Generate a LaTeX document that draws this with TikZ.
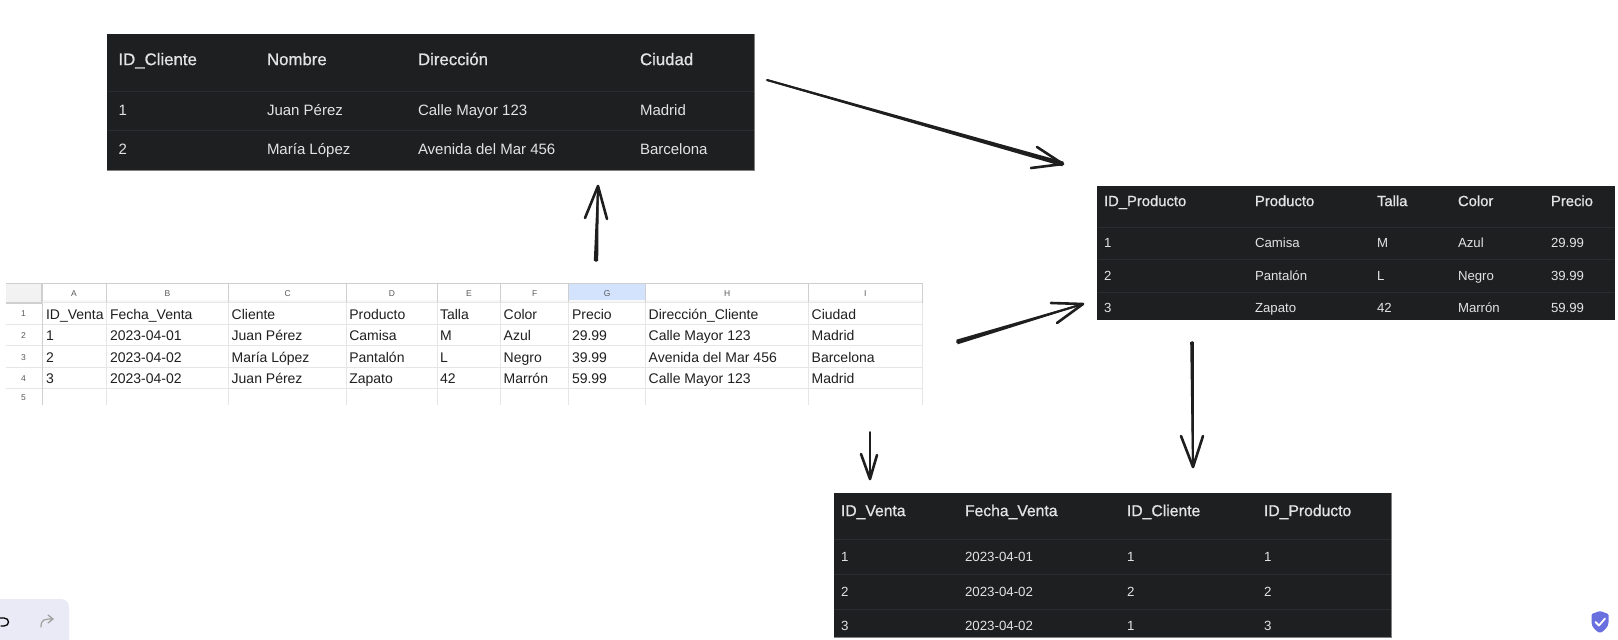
\documentclass[tikz,border=0pt]{standalone}
\usepackage{fontspec}
\setmainfont{Liberation Sans}
\newfontfamily\hdfont[FakeBold=0.8]{Liberation Sans}
\usetikzlibrary{calc}
\definecolor{panelbg}{HTML}{1E1F21}
\definecolor{panelsep}{HTML}{2B2C2F}
\definecolor{paneltxt}{HTML}{E3E3E3}
\definecolor{gridc}{HTML}{E6E6E6}
\definecolor{gridd}{HTML}{CFCFCF}
\definecolor{sheettxt}{HTML}{1F1F1F}
\definecolor{ink}{HTML}{1E1E1E}
\definecolor{selcol}{HTML}{D3E3FD}
\definecolor{barbg}{HTML}{E9EAF5}
\definecolor{shieldc}{HTML}{696FDE}
\tikzset{
  txt/.style={inner sep=0pt,outer sep=0pt,anchor=west,text height=.72em,text depth=0pt},
  panel/.style={fill=panelbg,draw=none,inner sep=0pt,anchor=north west},
  hA/.style={txt,text=paneltxt,font=\hdfont\fontsize{16.8}{18}\selectfont},
  bA/.style={txt,text=paneltxt,font=\fontsize{15}{17}\selectfont},
  hB/.style={txt,text=paneltxt,font=\hdfont\fontsize{14.8}{17}\selectfont},
  bB/.style={txt,text=paneltxt,font=\fontsize{13.2}{15}\selectfont},
  hC/.style={txt,text=paneltxt,font=\hdfont\fontsize{15.7}{17}\selectfont},
  bC/.style={txt,text=paneltxt,font=\fontsize{13.3}{15}\selectfont},
  sh/.style={txt,text=sheettxt,font=\fontsize{14}{16}\selectfont},
  tiny/.style={inner sep=0pt,outer sep=0pt,anchor=center,text=black!65,text height=.72em,text depth=0pt,font=\fontsize{8.5}{10}\selectfont},
  seprule/.style={draw=panelsep,line width=.8pt},
  edgerule/.style={draw=black!50,line width=1pt},
  grid/.style={draw=gridc,line width=.9pt},
  griddark/.style={draw=gridd,line width=1pt},
  inkstroke/.style={draw=ink,line cap=round,line join=round},
  inkhead/.style={draw=ink,line cap=round,line join=round,line width=2.6pt},
}
% one row of text: style, name prefix, y, list of x/text
\newcommand{\rowtext}[4]{%
  \foreach \cx/\ct [count=\ci] in {#4}{\node[#1] (#2-\ci) at (\cx,#3) {\ct};}%
}
% hand drawn arrow: tail, tip, barb, barb, half width at tail, half width at tip
\newcommand{\inkarrow}[6]{%
  \draw[inkstroke,line width=2pt] (#1) -- (#2);
  \fill[ink] ($(#1)!#5!90:(#2)$) -- ($(#1)!#5!-90:(#2)$) -- ($(#2)!#6!90:(#1)$) -- ($(#2)!#6!-90:(#1)$) -- cycle;
  \draw[inkhead] (#3) -- (#2) -- (#4);
}
\begin{document}
\begin{tikzpicture}[x=1pt,y=-1pt]
\useasboundingbox (0,0) rectangle (1618,640);
\fill[white] (0,0) rectangle (1618,640);

%% ---- spreadsheet ----
\fill[black!5] (6,283) rectangle (42,303);
\fill[selcol] (569,283) rectangle (646,303);
\fill[black!3] (42,300) rectangle (922,303);
\foreach \yy in {324.3,345.7,367.3,388.3}{\draw[grid] (6,\yy) -- (922,\yy);}
\foreach \xx in {106.3,228.7,346.7,437.3,500.7,568.7,645.7,808.7,922}{\draw[grid] (\xx,303) -- (\xx,405);}
\foreach \xx in {106.3,228.7,346.7,437.3,500.7,568.7,645.7,808.7,922}{\draw[griddark,line width=.8pt] (\xx,283) -- (\xx,303);}
\draw[griddark] (42.3,303) -- (42.3,405);
\draw[griddark] (6,283.3) -- (922,283.3);
\draw[griddark,line width=2pt] (6,302.7) -- (42.3,302.7) -- (42.3,283.3);
\draw[grid] (42,302.7) -- (922,302.7);
\foreach \cx/\ct [count=\ci] in {74/A,167.5/B,287.7/C,392/D,469/E,534.7/F,607.2/G,727.2/H,865.3/I}{
  \node[tiny] (col-\ci) at (\cx,293) {\ct};}
\foreach \ry/\ct [count=\ci] in {313/1,335/2,356.5/3,378/4,397/5}{
  \node[tiny] (rown-\ci) at (23.5,\ry) {\ct};}
\rowtext{sh}{sa}{315.7}{46/ID\_Venta,110/Fecha\_Venta,231.7/Cliente,349.3/Producto,440/Talla,503.7/Color,572/Precio,648.7/Dirección\_Cliente,811.7/Ciudad}
\rowtext{sh}{sb}{337}{46/1,110/2023-04-01,231.7/Juan Pérez,349.3/Camisa,440/M,503.7/Azul,572/29.99,648.7/Calle Mayor 123,811.7/Madrid}
\rowtext{sh}{sc}{358.5}{46/2,110/2023-04-02,231.7/María López,349.3/Pantalón,440/L,503.7/Negro,572/39.99,648.7/Avenida del Mar 456,811.7/Barcelona}
\rowtext{sh}{sd}{380}{46/3,110/2023-04-02,231.7/Juan Pérez,349.3/Zapato,440/42,503.7/Marrón,572/59.99,648.7/Calle Mayor 123,811.7/Madrid}

%% ---- Clientes ----
\node[panel,minimum width=647pt,minimum height=136pt] (clientes) at (107,34) {};
\draw[seprule] (107,91) -- (754,91);
\draw[seprule] (107,130) -- (754,130);
\draw[edgerule] (107,170) -- (754,170) -- (754,34);
\rowtext{hA}{ca}{61.5}{118.5/ID\_Cliente,267/Nombre,418/Dirección,640/Ciudad}
\rowtext{bA}{cb}{112}{118.5/1,267/Juan Pérez,418/Calle Mayor 123,640/Madrid}
\rowtext{bA}{cc}{150.5}{118.5/2,267/María López,418/Avenida del Mar 456,640/Barcelona}

%% ---- Productos ----
\node[panel,minimum width=518pt,minimum height=134pt] (productos) at (1097,186) {};
\draw[seprule] (1097,227.5) -- (1615,227.5);
\draw[seprule] (1097,259.5) -- (1615,259.5);
\draw[seprule] (1097,292) -- (1615,292);
\rowtext{hB}{pa}{202.5}{1104/ID\_Producto,1255/Producto,1377/Talla,1458/Color,1551/Precio}
\rowtext{bB}{pb}{244}{1104/1,1255/Camisa,1377/M,1458/Azul,1551/29.99}
\rowtext{bB}{pc}{277}{1104/2,1255/Pantalón,1377/L,1458/Negro,1551/39.99}
\rowtext{bB}{pd}{309}{1104/3,1255/Zapato,1377/42,1458/Marrón,1551/59.99}

%% ---- Ventas ----
\node[panel,minimum width=557pt,minimum height=144.5pt] (ventas) at (834,493) {};
\draw[seprule] (834,539.5) -- (1391,539.5);
\draw[seprule] (834,574.5) -- (1391,574.5);
\draw[seprule] (834,609) -- (1391,609);
\draw[edgerule] (834,637.5) -- (1391,637.5) -- (1391,493);
\rowtext{hC}{va}{512.5}{841/ID\_Venta,965/Fecha\_Venta,1127/ID\_Cliente,1264/ID\_Producto}
\rowtext{bC}{vb}{557.5}{841/1,965/2023-04-01,1127/1,1264/1}
\rowtext{bC}{vc}{592.5}{841/2,965/2023-04-02,1127/2,1264/2}
\rowtext{bC}{vd}{626.5}{841/3,965/2023-04-02,1127/1,1264/3}

%% ---- hand drawn arrows ----
\coordinate (u0) at (596,261); \coordinate (u1) at (598,186);
\coordinate (ua) at (585,218); \coordinate (ub) at (607,219);
\inkarrow{u0}{u1}{ua}{ub}{2.2pt}{.8pt}
\coordinate (r0) at (767,80); \coordinate (r1) at (1063,164);
\coordinate (ra) at (1037,147); \coordinate (rb) at (1031,168);
\inkarrow{r0}{r1}{ra}{rb}{.9pt}{2.4pt}
\coordinate (s0) at (957,342); \coordinate (s1) at (1083,304);
\coordinate (sa) at (1051,303); \coordinate (sb) at (1057,323);
\inkarrow{s0}{s1}{sa}{sb}{2.4pt}{.8pt}
\coordinate (d0) at (1192,342); \coordinate (d1) at (1193,467);
\coordinate (da) at (1181,436); \coordinate (db) at (1203,436);
\inkarrow{d0}{d1}{da}{db}{1.8pt}{1pt}
\coordinate (e0) at (870,432); \coordinate (e1) at (870,479);
\coordinate (ea) at (861,454); \coordinate (eb) at (877,455);
\inkarrow{e0}{e1}{ea}{eb}{.9pt}{.9pt}

%% ---- undo / redo bar ----
\begin{scope}
\clip (0,0) rectangle (1618,640);
\fill[barbg,rounded corners=8pt] (-20,599) rectangle (69,660);
\draw[black,line width=1.3pt,line cap=round] (0,618) -- (4,618) .. controls (10,618) and (10,626) .. (4,626) -- (1,626);
\draw[black!38,line width=1.2pt,line cap=round,line join=round] (41,627) .. controls (41,619) and (45,619) .. (53,619);
\draw[black!38,line width=1.2pt,line cap=round,line join=round] (48,615) -- (53,619) -- (48,623);
\end{scope}

%% ---- shield ----
\fill[shieldc,rounded corners=1.2pt] (1600,611) -- (1608.5,614) -- (1608.5,621) .. controls (1608.5,627) and (1604,631) .. (1600,633) .. controls (1596,631) and (1591.5,627) .. (1591.5,621) -- (1591.5,614) -- cycle;
\draw[white,line width=1.8pt,line cap=round,line join=round] (1595.5,622) -- (1599,625.5) -- (1605,618.5);
\end{tikzpicture}
\end{document}
